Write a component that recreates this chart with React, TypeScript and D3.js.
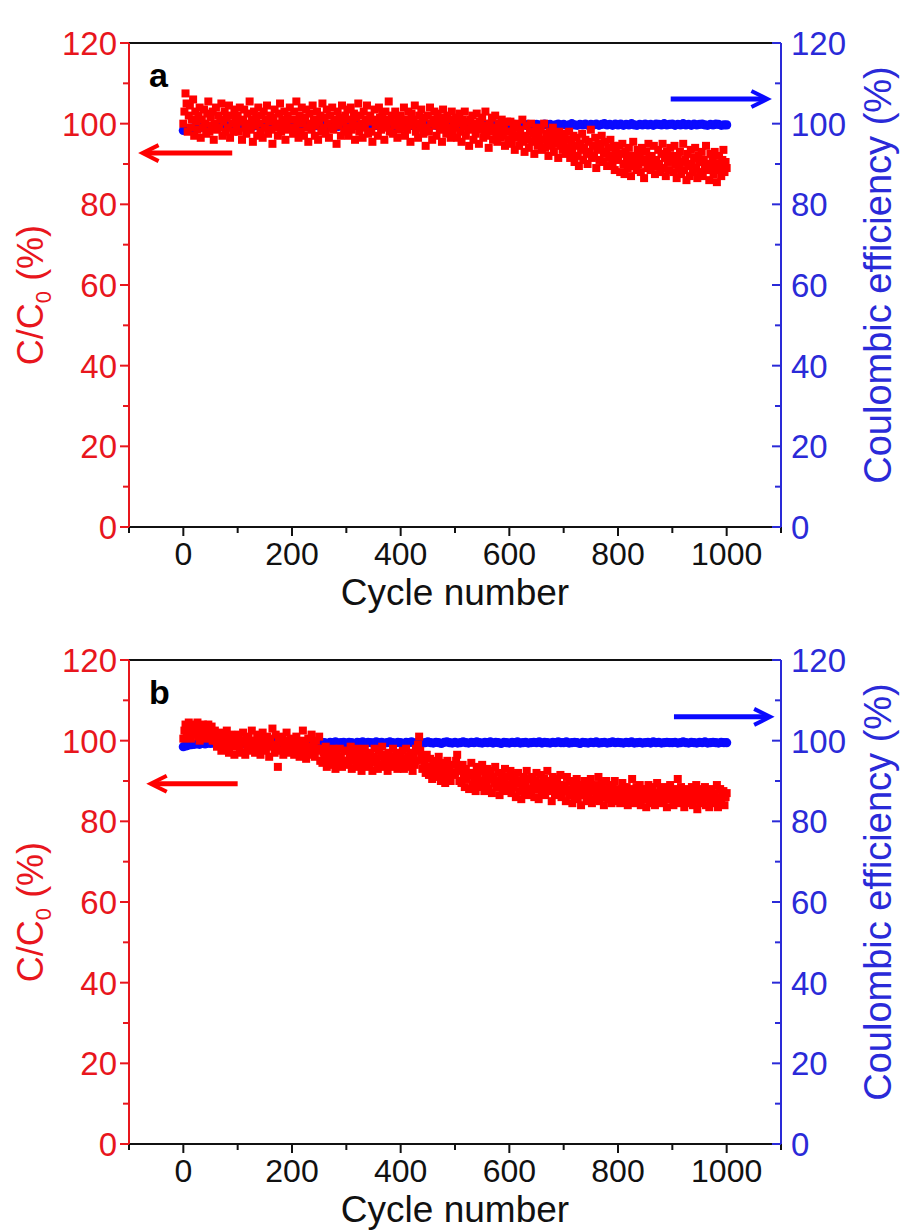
import React from "react";
import * as d3 from "d3";

// ---------- data: values evenly spaced over cycles 0..1000 ----------
const capRetentionA: number[] = [
  // 0-98
  100, 103, 107.5, 105, 98, 102, 104.5, 99, 101, 106, 97, 103, 100.5, 98.5, 102, 104, 96.5, 101, 99, 103.5, 100, 97.5, 102.5, 105.5, 98, 101.5, 99.5, 103, 96, 100, 104, 98.5, 102, 99, 101, 105, 97, 100.5, 103, 98, 101.5, 99, 104.5, 96.5, 102, 100, 98, 103.5, 101, 99.5,
  // 100-198
  102, 98, 104, 100.5, 96, 101, 103.5, 99, 97.5, 102.5, 100, 105.5, 98.5, 101, 95.5, 103, 99.5, 101.5, 97, 104, 100, 98, 102, 96.5, 103, 99, 101, 104.5, 97.5, 100.5, 102, 98.5, 95, 101.5, 103.5, 99, 100, 97, 102.5, 105, 98, 101, 99.5, 103, 96, 100.5, 102, 98.5, 104, 99,
  // 200-298
  101, 97.5, 103, 99, 105.5, 100.5, 96.5, 102, 98, 104, 100, 97, 101.5, 103.5, 99, 95.5, 102.5, 100, 98.5, 104.5, 101, 97, 99.5, 103, 96, 100.5, 102, 98, 105, 99, 101.5, 97.5, 103.5, 100, 96.5, 102, 99, 104, 98.5, 101, 100, 95, 103, 99.5, 101.5, 97, 104.5, 100.5, 98, 102,
  // 300-398
  99, 103.5, 97, 101, 104, 98.5, 100, 102.5, 96, 101.5, 99.5, 105, 98, 102, 100, 96.5, 103, 99, 101, 104.5, 97.5, 100.5, 102, 98, 95.5, 101, 103.5, 99.5, 100, 97, 104, 101.5, 98.5, 102.5, 100, 96, 103, 99, 101, 105.5, 98, 100.5, 102, 97.5, 99.5, 103, 100, 96.5, 101.5, 98.5,
  // 400-498
  102, 99, 100.5, 104, 97, 101, 98.5, 103, 100, 95.5, 102.5, 99.5, 101, 104.5, 98, 100, 96.5, 102, 99, 103.5, 100.5, 97.5, 101.5, 94.5, 99, 102, 98, 104, 100, 96, 101, 103, 99.5, 97, 102.5, 100, 98.5, 101.5, 95.5, 103.5, 99, 100.5, 97.5, 102, 99, 101, 96.5, 103, 98, 100,
  // 500-598
  99, 101.5, 96.5, 100, 102.5, 98, 95.5, 101, 99.5, 103, 97, 100.5, 98.5, 94.5, 101, 99, 102, 96, 100, 97.5, 102.5, 98.5, 95, 100.5, 99, 101.5, 96.5, 98, 103, 97, 99.5, 94, 100, 98, 101.5, 96, 99, 102, 97.5, 95.5, 100, 98.5, 96.5, 101, 97, 99.5, 94.5, 98, 100.5, 96,
  // 600-698
  98, 100.5, 95, 97.5, 99, 93.5, 96.5, 100, 97, 94.5, 98.5, 96, 101, 95.5, 93, 97, 99.5, 96, 94, 98, 100, 95.5, 97.5, 92.5, 96.5, 99, 94.5, 97, 95, 98.5, 93.5, 96, 100, 94, 97.5, 95.5, 92, 98, 96.5, 94.5, 99, 93, 96, 97.5, 95, 91.5, 98, 94.5, 96.5, 93.5,
  // 700-798
  95, 97.5, 92.5, 96, 94, 98, 91.5, 95.5, 93, 97, 90.5, 94.5, 96.5, 92, 89.5, 95, 93.5, 97.5, 91, 94, 96, 92.5, 90, 95.5, 93, 98.5, 91.5, 94.5, 92, 96.5, 89, 93.5, 95, 91, 94, 97, 90.5, 92.5, 95.5, 93, 89.5, 94, 91.5, 96, 92, 90, 94.5, 88.5, 93, 91.5,
  // 800-898
  91, 94.5, 88, 92.5, 95, 90, 87.5, 93, 91.5, 89, 94, 90.5, 87, 92, 95.5, 89.5, 91, 88.5, 93.5, 90, 92.5, 88, 94, 91, 86.5, 90.5, 93, 89, 95, 91.5, 88.5, 92, 90, 94.5, 87.5, 91, 89.5, 93.5, 90, 88, 92.5, 95, 89, 91.5, 87, 93, 90.5, 88.5, 94, 91,
  // 900-998
  92, 88, 94.5, 90, 86.5, 91.5, 89, 93, 87.5, 90.5, 95, 88.5, 91, 86, 92.5, 89.5, 87, 93.5, 90, 88, 91.5, 94, 89, 86.5, 92, 90.5, 88, 93, 87, 91, 89.5, 94.5, 88.5, 90, 86, 92.5, 89, 91.5, 87.5, 93, 90, 85.5, 88.5, 92, 89.5, 87, 91, 93.5, 88, 90.5,
  // 1000
  89,
];

const coulombicA: number[] = [
  98.3, 98.5, 98.7, 98.9, 99.0, 99.1, 99.0, 99.2, 99.1, 99.3, 99.2, 99.4, 99.3, 99.2, 99.4, 99.3, 99.5, 99.3, 99.4, 99.2,
  99.4, 99.3, 99.5, 99.4, 99.2, 99.5, 99.4, 99.6, 99.3, 99.5, 99.4, 99.6, 99.5, 99.3, 99.5, 99.4, 99.6, 99.5, 99.3, 99.6,
  99.5, 99.4, 99.6, 99.5, 99.3, 99.6, 99.5, 99.4, 99.7, 99.5, 99.4, 99.6, 99.5, 99.7, 99.4, 99.6, 99.5, 99.3, 99.6, 99.5,
  99.6, 99.4, 99.5, 99.7, 99.5, 99.6, 99.4, 99.6, 99.5, 99.7, 99.5, 99.6, 99.4, 99.7, 99.6, 99.5, 99.7, 99.4, 99.6, 99.5,
  99.5, 99.6, 99.8, 99.5, 99.6, 99.4, 99.7, 99.6, 99.5, 99.7, 99.6, 99.5, 99.7, 99.6, 99.8, 99.5, 99.6, 99.7, 99.5, 99.6,
  99.6, 99.8, 99.5, 99.7, 99.6, 99.9, 99.6, 99.7, 99.5, 99.8, 99.7, 99.6, 99.8, 99.6, 99.7, 99.9, 99.6, 99.7, 99.8, 99.6,
  99.7, 99.6, 99.8, 99.5, 99.7, 99.9, 99.6, 99.8, 99.7, 99.5, 99.8, 99.7, 99.6, 99.9, 99.7, 99.8, 99.6, 99.7, 99.9, 99.7,
  99.8, 99.6, 99.7, 100.0, 99.7, 99.6, 99.8, 99.7, 99.9, 99.6, 99.8, 99.7, 99.9, 99.6, 99.8, 100.0, 99.7, 99.8, 99.6, 99.9,
  99.7, 99.9, 99.6, 99.8, 99.7, 100.0, 99.7, 99.6, 99.8, 99.7, 99.9, 99.7, 99.8, 99.6, 99.9, 99.8, 99.7, 100.0, 99.7, 99.8,
  99.9, 99.6, 99.8, 99.7, 100.0, 99.7, 99.8, 99.6, 99.9, 99.7, 99.8, 99.9, 99.7, 99.6, 99.8, 99.7, 99.9, 99.8, 99.6, 99.7,
  99.7,
];

const capRetentionB: number[] = [
  // 0-98
  100.5, 102.5, 104, 101, 103.5, 104.5, 102, 100.5, 103, 104, 101.5, 103, 102.5, 104.5, 101, 100, 103.5, 102, 104, 101.5, 100.5, 103, 102.5, 104, 101, 102, 103.5, 100, 101.5, 102.5, 100, 98.5, 101.5, 99, 102, 97.5, 100.5, 99, 101, 98, 102.5, 99.5, 97, 100, 101.5, 98.5, 100, 96.5, 99.5, 101,
  // 100-198
  99, 101.5, 98, 100, 97, 102, 99.5, 96.5, 100.5, 98, 101, 99, 97.5, 102.5, 98.5, 100, 97, 99.5, 101.5, 98, 100.5, 96.5, 99, 102, 98, 100, 97.5, 101, 99, 96, 100.5, 98.5, 103, 99, 97, 101.5, 98, 93.5, 100, 97.5, 99.5, 101, 96.5, 98.5, 100, 102, 97, 99, 98, 100.5,
  // 200-298
  98, 100, 96.5, 99, 101, 97.5, 99.5, 96, 98.5, 100, 102.5, 97, 99, 95.5, 98, 100.5, 96.5, 98.5, 101.5, 97, 99, 96, 100, 98, 97.5, 101, 95, 98, 94.5, 97, 96, 98.5, 93.5, 96.5, 95, 97.5, 94, 96.5, 98, 95, 93, 97, 95.5, 94, 98, 96, 93.5, 95, 97.5, 94.5,
  // 300-398
  95, 97.5, 94, 96.5, 98.5, 93, 96, 95, 97, 93.5, 98, 95.5, 94, 97.5, 92.5, 96, 94.5, 98, 95, 93.5, 96.5, 94, 97, 95.5, 92.5, 96, 98, 94.5, 95.5, 93, 97.5, 94, 96, 98.5, 93.5, 95, 96.5, 94.5, 92.5, 97, 95, 93.5, 96, 98, 94, 95.5, 97, 93, 96.5, 94.5,
  // 400-498
  96, 94, 97.5, 93, 95.5, 98, 94.5, 96, 93.5, 97, 95, 92.5, 96.5, 94, 98, 95, 99, 101, 97.5, 96, 93, 95.5, 94, 92, 96.5, 93.5, 91.5, 95.5, 93, 90.5, 94, 92.5, 95, 91, 93.5, 96, 92, 90, 94.5, 91.5, 93, 89.5, 92.5, 95, 91, 93.5, 90, 92, 94, 91.5,
  // 500-598
  92, 95, 96.5, 93.5, 90, 92.5, 89.5, 94, 91, 88.5, 93, 90.5, 92, 88, 91.5, 94.5, 89, 92, 90, 87.5, 93.5, 91, 88.5, 92.5, 89.5, 94, 90, 87.5, 91.5, 89, 93, 88, 90.5, 92.5, 87, 91, 89.5, 93.5, 88.5, 90, 92, 86.5, 89.5, 91.5, 88, 90.5, 93, 87.5, 89, 91,
  // 600-698
  89, 92.5, 87, 90, 88.5, 91.5, 86, 89.5, 92, 87.5, 90, 85.5, 88.5, 91, 87, 89.5, 92.5, 86.5, 88, 90.5, 87.5, 91, 89, 86, 90, 92, 88, 85.5, 89.5, 91.5, 87, 88.5, 90.5, 86.5, 89, 92.5, 87.5, 90, 88, 85, 91, 89.5, 86.5, 88, 90.5, 87, 89, 91.5, 86, 88.5,
  // 700-798
  87.5, 89, 85, 91, 88, 86.5, 90, 87, 84.5, 89.5, 86, 88.5, 90.5, 85.5, 87, 89, 84, 88, 86.5, 90, 87, 85, 89.5, 86, 88, 90.5, 84.5, 87.5, 89, 85.5, 86.5, 88.5, 91, 85, 87, 89.5, 86, 84, 88, 90, 86.5, 85.5, 89, 87, 84.5, 88.5, 86, 90, 87.5, 85,
  // 800-898
  86, 88, 84.5, 87, 89.5, 85, 87.5, 86, 88.5, 84, 86.5, 88, 85.5, 90.5, 87, 84.5, 86, 88.5, 85, 87.5, 89, 84, 86.5, 88, 85.5, 87, 83.5, 86, 89, 85, 87.5, 84.5, 88.5, 86, 84, 87, 89.5, 85.5, 86.5, 88, 84.5, 87, 85, 88.5, 86, 83.5, 87.5, 85.5, 89, 86,
  // 900-998
  86.5, 84, 88, 85.5, 87, 90.5, 84.5, 86, 88.5, 85, 87, 83.5, 86.5, 88, 84.5, 87.5, 85, 86, 88.5, 84, 87, 85.5, 89, 83, 86, 88, 84.5, 87.5, 85, 86.5, 88.5, 84, 86, 87.5, 83.5, 85.5, 88, 86.5, 84.5, 87, 85, 89, 83.5, 86, 88, 84.5, 86.5, 87.5, 84, 86,
  // 1000
  87,
];

const coulombicB: number[] = [
  98.5, 98.7, 98.9, 99.0, 99.1, 99.2, 99.1, 99.3, 99.2, 99.4, 99.3, 99.4, 99.3, 99.5, 99.4, 99.3, 99.5, 99.4, 99.5, 99.3,
  99.4, 99.5, 99.3, 99.5, 99.4, 99.6, 99.4, 99.5, 99.3, 99.5, 99.6, 99.4, 99.5, 99.3, 99.6, 99.5, 99.4, 99.6, 99.5, 99.4,
  99.5, 99.4, 99.6, 99.5, 99.3, 99.5, 99.6, 99.4, 99.7, 99.5, 99.4, 99.6, 99.5, 99.3, 99.6, 99.5, 99.7, 99.4, 99.5, 99.6,
  99.4, 99.6, 99.5, 99.3, 99.6, 99.5, 99.7, 99.4, 99.6, 99.5, 99.4, 99.7, 99.5, 99.6, 99.4, 99.5, 99.7, 99.5, 99.4, 99.6,
  99.5, 99.3, 99.6, 99.5, 99.7, 99.4, 99.5, 99.6, 99.4, 99.5, 99.7, 99.5, 99.4, 99.6, 99.5, 99.3, 99.6, 99.7, 99.5, 99.4,
  99.6, 99.4, 99.5, 99.7, 99.5, 99.4, 99.6, 99.5, 99.7, 99.5, 99.4, 99.6, 99.5, 99.7, 99.4, 99.6, 99.5, 99.3, 99.6, 99.5,
  99.4, 99.6, 99.5, 99.7, 99.4, 99.5, 99.6, 99.4, 99.5, 99.6, 99.5, 99.7, 99.4, 99.6, 99.5, 99.4, 99.6, 99.5, 99.7, 99.5,
  99.5, 99.7, 99.4, 99.5, 99.6, 99.5, 99.3, 99.6, 99.5, 99.4, 99.6, 99.5, 99.7, 99.4, 99.5, 99.6, 99.4, 99.5, 99.7, 99.5,
  99.6, 99.5, 99.4, 99.6, 99.5, 99.7, 99.4, 99.5, 99.6, 99.4, 99.5, 99.6, 99.4, 99.7, 99.5, 99.6, 99.4, 99.5, 99.6, 99.5,
  99.5, 99.6, 99.4, 99.5, 99.7, 99.5, 99.4, 99.6, 99.5, 99.4, 99.6, 99.5, 99.7, 99.4, 99.5, 99.6, 99.5, 99.4, 99.6, 99.5,
  99.5,
];

const lastCycle = 1000;
const xTicks = [0, 200, 400, 600, 800, 1000];
const xMinorTicks = [-100, 100, 300, 500, 700, 900, 1100];
const yTicks = [0, 20, 40, 60, 80, 100, 120];
const yMinorTicks = [10, 30, 50, 70, 90, 110];

// arrows in data units: [fromCycle, toCycle, value]
const arrowsA = { red: [90, -75, 92.7], blue: [897, 1075, 106.1] };
const arrowsB = { red: [100, -60, 89.3], blue: [903, 1080, 105.9] };

// ---------- styles ----------
const RED = "#ff0000";
const RED_TXT = "#e8161d";
const BLUE = "#0a0aff";
const BLUE_TXT = "#2a2ad8";
const FONT = "'Liberation Sans', Arial, sans-serif";

type PanelProps = {
  top: number;
  bottom: number;
  label: string;
  cap: number[];
  ce: number[];
  arrows: { red: number[]; blue: number[] };
};

function Panel({ top, bottom, label, cap, ce, arrows }: PanelProps) {
  const left = 129;
  const right = 781;
  const x = d3.scaleLinear().domain([-100, 1100]).range([left, right]);
  const y = d3.scaleLinear().domain([0, 120]).range([bottom, top]);
  const sq = 8;
  const capStep = lastCycle / (cap.length - 1);
  const ceStep = lastCycle / (ce.length - 1);

  const arrowPath = (a: number[], dir: number) => {
    const x0 = x(a[0]);
    const x1 = x(a[1]);
    const yy = y(a[2]);
    const back = 16 * dir;
    return {
      shaft: `M${x0},${yy}L${x1 - dir * 3},${yy}`,
      head: `M${x1 - back},${yy - 8}L${x1},${yy}L${x1 - back},${yy + 8}`,
    };
  };
  const ra = arrowPath(arrows.red, -1);
  const ba = arrowPath(arrows.blue, 1);

  return (
    <g>
      {/* data */}
      <g>
        {ce.map((v, i) => (
          <circle key={"c" + i} cx={x(i * ceStep)} cy={y(v)} r={4.6} fill={BLUE} />
        ))}
      </g>
      <g>
        {cap.map((v, i) => (
          <rect
            key={"r" + i}
            x={x(i * capStep) - sq / 2}
            y={y(v) - sq / 2}
            width={sq}
            height={sq}
            fill={RED}
          />
        ))}
      </g>

      {/* frame */}
      <line x1={left} x2={right} y1={top} y2={top} stroke="#111" strokeWidth={2} />
      <line x1={left} x2={right} y1={bottom} y2={bottom} stroke="#111" strokeWidth={2} />
      <line x1={left} x2={left} y1={top} y2={bottom + 1} stroke={RED_TXT} strokeWidth={2} />
      <line x1={right} x2={right} y1={top} y2={bottom + 1} stroke={BLUE_TXT} strokeWidth={2} />

      {/* x ticks */}
      {xTicks.map((t) => (
        <g key={"xt" + t}>
          <line x1={x(t)} x2={x(t)} y1={bottom} y2={bottom + 9} stroke="#111" strokeWidth={2} />
          <text
            x={x(t)}
            y={bottom + 38}
            textAnchor="middle"
            fontFamily={FONT}
            fontSize={32}
            fill="#111"
          >
            {t}
          </text>
        </g>
      ))}
      {xMinorTicks.map((t) => (
        <line key={"xm" + t} x1={x(t)} x2={x(t)} y1={bottom} y2={bottom + 6} stroke="#111" strokeWidth={2} />
      ))}
      <text
        x={(left + right) / 2}
        y={bottom + 78}
        textAnchor="middle"
        fontFamily={FONT}
        fontSize={37}
        fill="#111"
      >
        Cycle number
      </text>

      {/* left y axis */}
      {yTicks.map((t) => (
        <g key={"yl" + t}>
          <line x1={left - 9} x2={left} y1={y(t)} y2={y(t)} stroke={RED_TXT} strokeWidth={2} />
          <text
            x={left - 12}
            y={y(t) + 12}
            textAnchor="end"
            fontFamily={FONT}
            fontSize={33}
            fill={RED_TXT}
          >
            {t}
          </text>
        </g>
      ))}
      {yMinorTicks.map((t) => (
        <line key={"ylm" + t} x1={left - 6} x2={left} y1={y(t)} y2={y(t)} stroke={RED_TXT} strokeWidth={2} />
      ))}
      <text
        transform={`translate(43,${(top + bottom) / 2 + 10}) rotate(-90)`}
        textAnchor="middle"
        fontFamily={FONT}
        fontSize={36}
        fill={RED_TXT}
      >
        C/C<tspan fontSize={22} dy={8}>0</tspan>
        <tspan dy={-8}> (%)</tspan>
      </text>

      {/* right y axis */}
      {yTicks.map((t) => (
        <g key={"yr" + t}>
          <line x1={right - 9} x2={right} y1={y(t)} y2={y(t)} stroke={BLUE_TXT} strokeWidth={2} />
          <text
            x={right + 10}
            y={y(t) + 12}
            textAnchor="start"
            fontFamily={FONT}
            fontSize={33}
            fill={BLUE_TXT}
          >
            {t}
          </text>
        </g>
      ))}
      {yMinorTicks.map((t) => (
        <line key={"yrm" + t} x1={right - 6} x2={right} y1={y(t)} y2={y(t)} stroke={BLUE_TXT} strokeWidth={2} />
      ))}
      <text
        transform={`translate(891,${(top + bottom) / 2 - 10}) rotate(-90)`}
        textAnchor="middle"
        fontFamily={FONT}
        fontSize={38}
        fill={BLUE_TXT}
      >
        Coulombic efficiency (%)
      </text>

      {/* arrows */}
      <path d={ra.shaft} stroke={RED} strokeWidth={5} fill="none" />
      <path d={ra.head} stroke={RED} strokeWidth={4} fill="none" strokeLinejoin="miter" />
      <path d={ba.shaft} stroke={BLUE} strokeWidth={5} fill="none" />
      <path d={ba.head} stroke={BLUE} strokeWidth={4} fill="none" strokeLinejoin="miter" />

      {/* panel label */}
      <text x={x(-63)} y={top + 44} fontFamily={FONT} fontWeight="bold" fontSize={34} fill="#000">
        {label}
      </text>
    </g>
  );
}

export default function App() {
  return (
    <svg
      width={904}
      height={1232}
      style={{ position: "absolute", left: 0, top: 0, background: "#fff" }}
    >
      <Panel top={43} bottom={527} label="a" cap={capRetentionA} ce={coulombicA} arrows={arrowsA} />
      <Panel top={660} bottom={1144} label="b" cap={capRetentionB} ce={coulombicB} arrows={arrowsB} />
    </svg>
  );
}
